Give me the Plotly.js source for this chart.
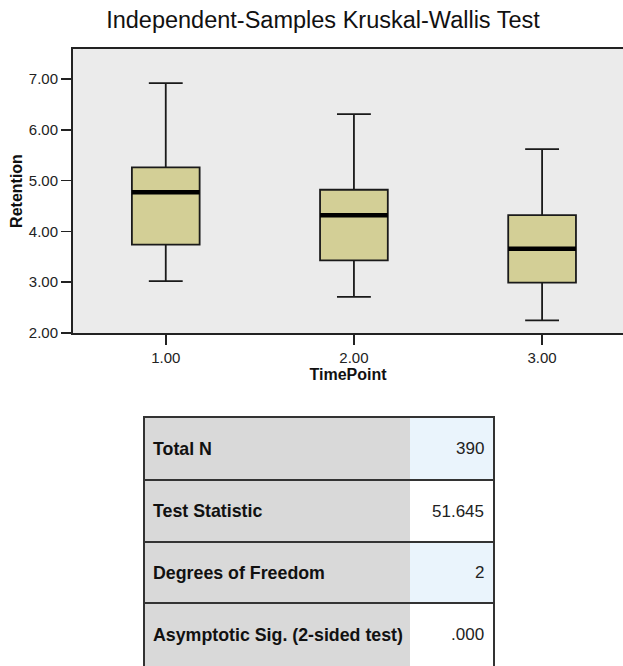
<!DOCTYPE html>
<html>
<head>
<meta charset="utf-8">
<script src="https://cdn.plot.ly/plotly-3.0.1.min.js"></script>
<style>html,body{margin:0;padding:0;background:#fff;}#chart{width:623px;height:666px;}</style>
</head>
<body>
<div id="chart"></div>
<script>
// ---- data ----
const timePoints = [1, 2, 3];
const timeLabels = ['1.00', '2.00', '3.00'];
const lowerWhisker = [3.02, 2.71, 2.25];
const q1 = [3.74, 3.43, 2.99];
const median = [4.77, 4.32, 3.66];
const q3 = [5.26, 4.82, 4.32];
const upperWhisker = [6.92, 6.31, 5.62];
const yTickVals = [2, 3, 4, 5, 6, 7];
const yTickLabels = ['2.00', '3.00', '4.00', '5.00', '6.00', '7.00'];
const tableLabels = ['Total N', 'Test Statistic', 'Degrees of Freedom', 'Asymptotic Sig. (2-sided test)'];
const tableValues = ['390', '51.645', '2', '.000'];

// ---- layout helpers ----
const W = 623, H = 666;
const M = {l: 73, r: 0, t: 49, b: 333};
const PW = W - M.l - M.r, PH = H - M.t - M.b;
const px = x => (x - M.l) / PW;
const py = y => (H - M.b - y) / PH;
const FONT = 'Liberation Sans, Arial, sans-serif';
const boxHalf = 0.18;

const boxTrace = {
  type: 'box',
  x: timePoints,
  q1: q1, median: median, q3: q3,
  lowerfence: lowerWhisker, upperfence: upperWhisker,
  width: boxHalf * 2,
  whiskerwidth: 0.5,
  boxpoints: false,
  fillcolor: '#d3cf96',
  line: {color: '#1a1a1a', width: 1.8},
  hoverinfo: 'skip',
  showlegend: false
};

const mx = [], my = [];
timePoints.forEach((t, i) => { mx.push(t - boxHalf, t + boxHalf, null); my.push(median[i], median[i], null); });
const medianTrace = {
  type: 'scatter', mode: 'lines', x: mx, y: my,
  line: {color: '#000', width: 4.5}, hoverinfo: 'skip', showlegend: false
};

// ---- table ----
const rowTops = [417, 480, 542, 603];
const rowH = [63, 62, 61, 67];
const tL = 144, tMid = 410, tR = 494;
const shapes = [];
const annotations = [];
tableLabels.forEach((lab, i) => {
  const top = rowTops[i], bot = top + rowH[i];
  const cy = top + rowH[i] / 2 + (i === 3 ? -2 : 0);
  shapes.push({type: 'rect', xref: 'paper', yref: 'paper', x0: px(tL), x1: px(tMid), y0: py(bot), y1: py(top),
    fillcolor: '#d9d9d9', line: {width: 0}, layer: 'below'});
  shapes.push({type: 'rect', xref: 'paper', yref: 'paper', x0: px(tMid), x1: px(tR), y0: py(bot), y1: py(top),
    fillcolor: (i % 2 === 0 && i < 3) ? '#eaf4fc' : '#ffffff', line: {width: 0}, layer: 'below'});
  shapes.push({type: 'line', xref: 'paper', yref: 'paper', x0: px(tL), x1: px(tR), y0: py(top), y1: py(top),
    line: {color: '#333', width: 2}});
  annotations.push({xref: 'paper', yref: 'paper', x: px(151), y: py(cy),
    xanchor: 'left', yanchor: 'middle', showarrow: false, text: '<b>' + lab + '</b>',
    font: {family: FONT, size: 17.8, color: '#111'}});
  annotations.push({xref: 'paper', yref: 'paper', x: px(486), y: py(cy),
    xanchor: 'right', yanchor: 'middle', showarrow: false, text: tableValues[i],
    font: {family: FONT, size: 17, color: '#222'}});
});
shapes.push({type: 'line', xref: 'paper', yref: 'paper', x0: px(tL), x1: px(tL), y0: py(670), y1: py(416), line: {color: '#333', width: 2}});
shapes.push({type: 'line', xref: 'paper', yref: 'paper', x0: px(tR), x1: px(tR), y0: py(670), y1: py(416), line: {color: '#333', width: 2}});

const layout = {
  width: W, height: H,
  margin: M,
  paper_bgcolor: '#ffffff',
  plot_bgcolor: '#ebebeb',
  font: {family: FONT, color: '#222'},
  title: {text: 'Independent-Samples Kruskal-Wallis Test', font: {family: FONT, size: 23.5, color: '#111'},
    xref: 'container', x: 323 / W, xanchor: 'center', yref: 'container', y: 1 - 20 / H, yanchor: 'middle'},
  xaxis: {
    range: [0.507, 3.43], tickvals: timePoints, ticktext: timeLabels,
    ticks: 'outside', ticklen: 10, tickwidth: 1.5, tickcolor: '#222',
    showline: true, linecolor: '#222', linewidth: 2, mirror: true,
    showgrid: false, zeroline: false, tickfont: {family: FONT, size: 15, color: '#222'},
    title: {text: '<b>TimePoint</b>', font: {family: FONT, size: 16, color: '#111'}, standoff: 4}
  },
  yaxis: {
    range: [2, 7.59], tickvals: yTickVals, ticktext: yTickLabels,
    ticks: 'outside', ticklen: 10, tickwidth: 1.5, tickcolor: '#222',
    showline: true, linecolor: '#222', linewidth: 2,
    showgrid: false, zeroline: false, tickfont: {family: FONT, size: 15, color: '#222'},
    title: {text: '<b>Retention</b>', font: {family: FONT, size: 16, color: '#111'}, standoff: 2}
  },
  shapes: shapes,
  annotations: annotations,
  showlegend: false
};

Plotly.newPlot('chart', [boxTrace, medianTrace], layout, {displayModeBar: false, staticPlot: true});
</script>
</body>
</html>
